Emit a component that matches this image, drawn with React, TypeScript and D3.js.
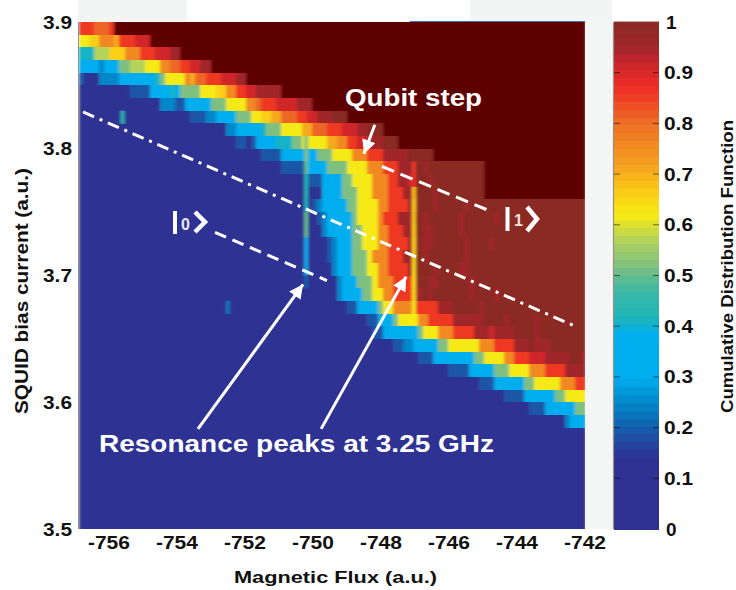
import React from "react";
import * as d3 from "d3";

const width = 736;
const height = 590;

// Level codes used in the heatmap rows, and the CDF value each stands for.
const levelCodes = ".abcdefghijklmnopq#";
const levelValues = [0.07, 0.14, 0.19, 0.25, 0.33, 0.41, 0.46, 0.52, 0.57, 0.62, 0.66, 0.71, 0.76, 0.81, 0.86, 0.91, 0.95, 1.0, 1.2];

// Run-length rows (code + number of columns; the last code fills the row), top row first.
const cdfRows = [
  "n3m3n1#",
  "i2j2l3k1n3o3#",
  "e3h3j3l3n3o3p2#",
  "d4c1d3g2h3i3l2m2n2o2p2#",
  "b1a3c4d7e1g1i4l1k1m2n3o3p2#",
  ".10b4d4e1d1g4i3j2l2n2o2p5#",
  ".16c3b2d5g3i4l2m1n3o4p3#",
  ".22b3c2d4g3i2j2k2m3n2o2p3q3#",
  ".28a1c2d5e1g3i4k2m3n3o3p2q3#",
  ".31b2.1b1d4e3g2i5k2l2n2o2p3q3#",
  ".35a1b4d7g3i4l3n3p5q5#",
  ".39a1b5d4g4i4l3n3p3q2p1q11#",
  ".41a4b3d4g2i4l3n2p2o1q3p1q10#",
  ".41a7d4g3i3l3n3p2q4p1q9#",
  ".45a1b1c1d5g2i4l2n4p2q3p1q5p1q",
  ".46a1b1c1d5g1i4l1n3p3q2p1q6p1q6p1q",
  ".47a1c1d5g2i3l2n3p2q2p2q5p1q",
  ".48a1b1c1d3g2i3l2n4p2q1p2q6p1q4p1q",
  ".48a1b1c1d3g3i1l3n3p2q2p1q7p1q",
  ".49a1c1d3g3i2l2n4p1q4p1q4p2q",
  ".50a1c1d3g3i1l3n4p1q2p2q6p1q",
  ".50a1c1d4g2i2l2n4p2q1p1q7p1q4p1q",
  ".52a1b2d4g1i2l4n5p3q5p1q",
  ".56a1b2d3g1i4l2n5p6q4p1q5p1q",
  ".57a1b2d7g1i3l3n4p3o1p4q4p1q",
  ".61a1b2c2d5g2i6l3n4p3q1p3q",
  ".66a1b3d8g2i4l2n3o3p5q2p1",
  ".72a1b4d5g3i4l3n4p",
  ".78a1b3d6g2i5l3n",
  ".83a1b4d6g2i",
  ".89b3d6g",
  ".96c1d",
  ".", ".", ".", ".", ".", ".", ".", ".",
];

// Narrow spikes: flux position, row index, CDF value.
const spikeFlux = [
  -750.2, -750.2, -750.2, -750.2, -750.2, -750.2, -750.2, -750.2, -750.2, -750.2, -750.2, -750.2,
  -747.03, -747.03, -747.03, -747.03, -747.03, -747.03, -747.03, -747.03, -747.03, -747.03, -747.03, -747.03,
  -755.6, -752.5,
];
const spikeRow = [
  9, 10, 11, 12, 13, 14, 15, 16, 17, 18, 19, 20,
  11, 12, 13, 14, 15, 16, 17, 18, 19, 20, 21, 22,
  7, 22,
];
const spikeValue = [
  0.52, 0.52, 0.5, 0.42, 0.42, 0.42, 0.5, 0.5, 0.34, 0.34, 0.33, 0.2,
  0.86, 0.87, 0.68, 0.66, 0.67, 0.66, 0.65, 0.65, 0.64, 0.64, 0.64, 0.62,
  0.44, 0.23,
];

// Colour map.
const colorStops = [0, 0.14, 0.18, 0.21, 0.26, 0.3, 0.38, 0.42, 0.47, 0.52, 0.57, 0.62, 0.66, 0.72, 0.8, 0.87, 0.92, 0.95, 1];
const colorValues = ["#2f3192", "#2e3192", "#1f4fa3", "#0f65b0", "#0090d0", "#00aeef", "#00aeef", "#1fb5b8", "#3cb8a5", "#7fc080", "#b5d25a", "#f5ea14", "#fbd015", "#f5a020", "#ee6f25", "#ee2e24", "#c9252b", "#a1262a", "#8a2a24"];
const overColor = "#5f0000";

const fluxTicks = [-756, -754, -752, -750, -748, -746, -744, -742];
const currentTicks = [3.5, 3.6, 3.7, 3.8, 3.9];
const cdfTicks = [0, 0.1, 0.2, 0.3, 0.4, 0.5, 0.6, 0.7, 0.8, 0.9, 1];

const x = d3.scaleLinear().domain([-756.88, -742]).range([79, 585]);
const y = d3.scaleLinear().domain([3.5, 3.9]).range([529, 22]);
const cb = d3.scaleLinear().domain([0, 1]).range([529, 22]);
const color = d3.scaleLinear<string>().domain(colorStops).range(colorValues).interpolate(d3.interpolateRgb);
const colorOf = (v: number) => (v > 1 ? overColor : color(v));

const nCols = 100;
const nRows = cdfRows.length;
const colW = (x.domain()[1] - x.domain()[0]) / nCols;
const rowH = (y.domain()[1] - y.domain()[0]) / nRows;

function decode(s: string): number[] {
  const out: number[] = [];
  const re = /([.a-q#])(\d*)/g;
  let m: RegExpExecArray | null;
  let last = 0;
  while ((m = re.exec(s))) {
    last = levelValues[levelCodes.indexOf(m[1])];
    const n = m[2] === "" ? 0 : +m[2];
    for (let i = 0; i < n; i++) out.push(last);
  }
  while (out.length < nCols) out.push(last);
  return out.slice(0, nCols);
}
const matrix = cdfRows.map(decode);

const boldFont = "'Liberation Sans', Arial, sans-serif";

const Txt = (p: any) => (
  <text fontFamily={boldFont} fontWeight="bold" lengthAdjust="spacingAndGlyphs" {...p} />
);

const px = (f: number) => x(f);
const py = (c: number) => y(c);

export default function App() {
  return (
    <svg width={width} height={height} viewBox={`0 0 ${width} ${height}`} style={{ position: "absolute", left: 0, top: 0, display: "block", background: "#fff" }}>
      <defs>
        <clipPath id="plot"><rect x={79} y={22} width={506} height={507} /></clipPath>
        <filter id="soft" filterUnits="userSpaceOnUse" x={60} y={10} width={540} height={530}>
          <feGaussianBlur stdDeviation="1.5 0.35" edgeMode="duplicate" />
        </filter>
        <marker id="head" markerUnits="userSpaceOnUse" markerWidth={16} markerHeight={16} refX={14} refY={7} orient="auto">
          <path d="M0,0 L14,7 L0,14 Z" fill="#fff" />
        </marker>
      </defs>

      {/* pale background scraps */}
      <rect x={78} y={0} width={109} height={21} fill="#f3f5f5" />
      <rect x={470} y={0} width={142} height={21} fill="#f3f5f5" />
      <rect x={585} y={21} width={28} height={508} fill="#f4f5f5" />

      {/* heatmap */}
      <g clipPath="url(#plot)">
        <g filter="url(#soft)">
          {matrix.map((row, r) =>
            row.map((v, c) => {
              const f0 = x.domain()[0] + c * colW;
              const top = y.domain()[1] - r * rowH;
              return (
                <rect key={`${r}-${c}`} x={x(f0)} y={y(top)} width={x(f0 + colW) - x(f0) + 0.5} height={y(top - rowH) - y(top) + 0.5} fill={colorOf(v)} shapeRendering="crispEdges" />
              );
            })
          )}
          {spikeFlux.map((f, i) => {
            const top = y.domain()[1] - spikeRow[i] * rowH;
            return (
              <rect key={`s${i}`} x={x(f) - 1.9} y={y(top)} width={3.8} height={y(top - rowH) - y(top) + 0.5} fill={colorOf(spikeValue[i])} />
            );
          })}
        </g>
      </g>
      <line x1={78.5} x2={78.5} y1={22} y2={529} stroke="#8d8d9c" strokeWidth={1} />
      <line x1={410} x2={585} y1={21.5} y2={21.5} stroke="#3f74b8" strokeWidth={1} />

      {/* colour bar */}
      {d3.range(64).map((i) => {
        const v0 = i / 64;
        const v1 = (i + 1) / 64;
        return <rect key={i} x={614} y={cb(v1)} width={45} height={cb(v0) - cb(v1) + 0.5} fill={color((v0 + v1) / 2)} shapeRendering="crispEdges" />;
      })}
      <line x1={613.5} x2={613.5} y1={22} y2={529} stroke="#9a8f82" strokeWidth={1.2} />
      <line x1={614} x2={659} y1={21.5} y2={21.5} stroke="#c9a9a0" strokeWidth={1} />
      {cdfTicks.filter((t) => t > 0 && t < 1).map((t) => (
        <g key={t} stroke="#000" strokeOpacity={0.55} strokeWidth={1}>
          <line x1={614} x2={620} y1={cb(t)} y2={cb(t)} />
          <line x1={653} x2={659} y1={cb(t)} y2={cb(t)} />
        </g>
      ))}

      {/* annotations */}
      <g fill="none" stroke="#fff" strokeWidth={3}>
        <line x1={px(-756.76)} y1={py(3.829)} x2={px(-742.29)} y2={py(3.66)} strokeDasharray="12 6 3 6" />
        <line x1={px(-752.88)} y1={py(3.734)} x2={px(-749.59)} y2={py(3.696)} strokeDasharray="12 7" />
        <line x1={px(-747.97)} y1={py(3.786)} x2={px(-744.71)} y2={py(3.75)} strokeDasharray="13 7" />
        <line x1={px(-748.18)} y1={py(3.819)} x2={px(-748.5)} y2={py(3.796)} markerEnd="url(#head)" />
        <line x1={px(-753.38)} y1={py(3.579)} x2={px(-750.29)} y2={py(3.693)} markerEnd="url(#head)" />
        <line x1={px(-749.76)} y1={py(3.579)} x2={px(-747.26)} y2={py(3.699)} markerEnd="url(#head)" />
        {/* |0> */}
        <line x1={175} x2={175} y1={211} y2={234} strokeWidth={4} />
        <polyline points="195,212 205,222 195,232" strokeWidth={4.5} />
        {/* |1> */}
        <line x1={507.5} x2={507.5} y1={207} y2={231} strokeWidth={4} />
        <polyline points="527,207 537,219 527,231" strokeWidth={4.5} />
      </g>
      <Txt x={181} y={230} fontSize={16} fill="#e8e8f0">0</Txt>
      <Txt x={514} y={226} fontSize={16} fill="#f0e4e0">1</Txt>
      <Txt x={345} y={106} fontSize={23} fill="#fff" textLength={137}>Qubit step</Txt>
      <Txt x={99} y={452} fontSize={23} fill="#fff" textLength={395}>Resonance peaks at 3.25 GHz</Txt>

      {/* axes */}
      {fluxTicks.map((t) => (
        <Txt key={t} x={x(t) - 21} y={549} fontSize={18} fill="#111" textLength={42}>{String(t)}</Txt>
      ))}
      {currentTicks.map((t) => (
        <Txt key={t} x={43} y={y(t) + 6.5} fontSize={19} fill="#111" textLength={29}>{t.toFixed(1)}</Txt>
      ))}
      {cdfTicks.map((t) =>
        t === 0 || t === 1 ? (
          <Txt key={t} x={666} y={cb(t) + 6.5} fontSize={19} fill="#111">{String(t)}</Txt>
        ) : (
          <Txt key={t} x={664} y={cb(t) + 6.5} fontSize={19} fill="#111" textLength={29}>{String(t)}</Txt>
        )
      )}

      <Txt x={234} y={583} fontSize={17} fill="#111" textLength={203}>Magnetic Flux (a.u.)</Txt>
      <Txt transform="translate(28,414) rotate(-90)" fontSize={18} fill="#111" textLength={246}>SQUID bias current  (a.u.)</Txt>
      <Txt transform="translate(733,413) rotate(-90)" fontSize={16} fill="#111" textLength={293}>Cumulative Distribution Function</Txt>
    </svg>
  );
}
